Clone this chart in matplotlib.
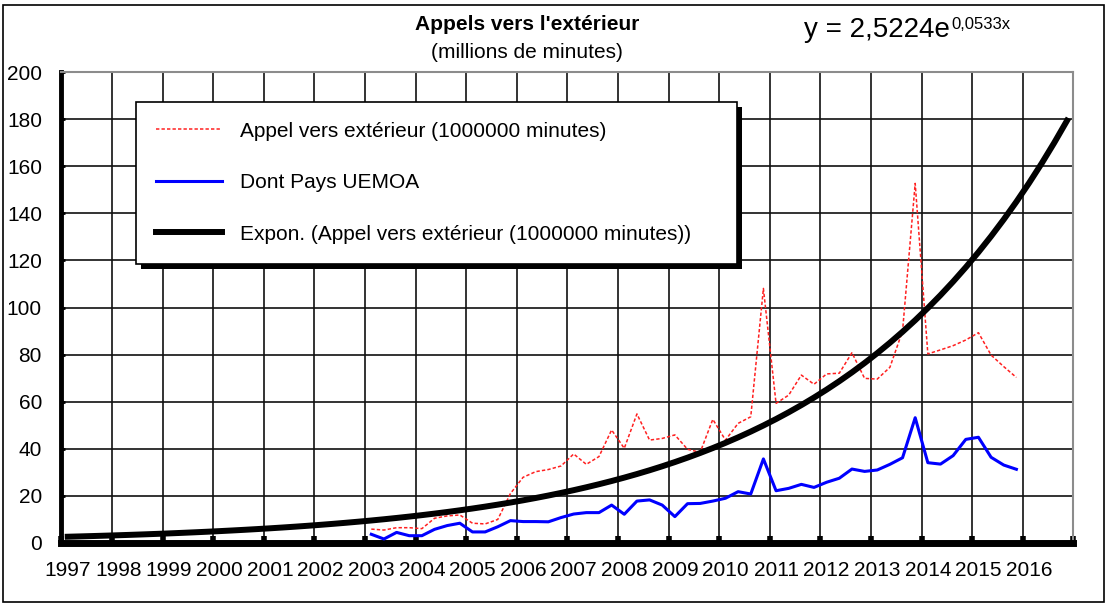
import numpy as np
import matplotlib.pyplot as plt
from matplotlib.patches import Rectangle
from matplotlib.transforms import IdentityTransform

plt.rcParams['font.family'] = ['Liberation Sans', 'DejaVu Sans']

# quarterly series, 1997 T1 .. 2016 T4 on the category axis
years = list(range(1997, 2017))
n_quarters = 80
first_quarter = 25  # 2003 T1

# Appel vers extérieur (millions de minutes), 2003 T1 .. 2015 T4
appels = [5.9, 5.5, 6.5, 6.5, 6.1, 10.5, 11.5, 11.9, 8.4, 8.1, 10.0,
          21.0, 27.9, 30.3, 31.2, 32.7, 37.8, 33.4, 36.7, 48.0, 40.2, 54.8,
          43.7, 44.4, 45.9, 39.8, 38.5, 52.5, 43.7, 50.8, 53.6, 108.1, 59.3,
          62.8, 71.3, 67.4, 71.8, 72.1, 80.8, 69.9, 69.6, 74.6, 90.0, 152.7,
          80.3, 82.0, 83.8, 86.2, 89.3, 79.8, 74.9, 70.3]
# dont pays UEMOA
uemoa = [3.7, 1.7, 4.5, 3.1, 3.1, 5.8, 7.4, 8.4, 4.7, 4.7, 6.9,
         9.5, 9.1, 9.1, 9.0, 10.8, 12.3, 12.9, 12.9, 16.1, 12.2, 17.8,
         18.3, 16.1, 11.2, 16.7, 16.8, 17.8, 19.0, 21.8, 20.8, 35.7, 22.2,
         23.2, 24.9, 23.6, 25.8, 27.5, 31.4, 30.4, 31.0, 33.4, 36.2, 53.2,
         34.1, 33.5, 37.1, 44.0, 44.9, 36.4, 33.1, 31.3]

# exponential trend y = a * exp(b * x), x = quarter index
trend_a = 2.5224
trend_b = 0.0533

x_all = np.arange(1, n_quarters + 1)
x_data = np.arange(first_quarter, first_quarter + len(appels))
trend = trend_a * np.exp(trend_b * x_all)

W, H = 1110, 603
fig = plt.figure(figsize=(W / 100, H / 100), dpi=100)
ax = fig.add_axes([61.4 / W, 60 / H, 1011.9 / W, 471 / H])

red_line, = ax.plot(x_data, appels, color='#ff2020', lw=1.1, dashes=(2.2, 1.4),
                    label='Appel vers extérieur (1000000 minutes)', zorder=3)
blue_line, = ax.plot(x_data, uemoa, color='#0000ff', lw=2.2,
                     label='Dont Pays UEMOA', zorder=3)
trend_line, = ax.plot(x_all, trend, color='black', lw=4.3,
                      label='Expon. (Appel vers extérieur (1000000 minutes))', zorder=4)

ax.set_xlim(0.5, n_quarters + 0.5)
ax.set_ylim(0, 200)

# year labels sit on the first quarter, grid on the year boundaries
ax.set_xticks(np.arange(1, n_quarters + 1, 4))
ax.set_xticklabels([str(y) for y in years])
ax.set_xticks(np.arange(0.5, n_quarters + 1, 4), minor=True)
ax.set_yticks(np.arange(0, 201, 20))

ax.set_axisbelow(True)
ax.grid(True, which='major', axis='y', color='#111111', lw=1.2)
ax.grid(True, which='minor', axis='x', color='#111111', lw=1.2)

ax.tick_params(axis='x', which='major', length=0, pad=13, labelsize=15)
ax.tick_params(axis='x', which='minor', length=5, width=4, direction='in', color='black')
ax.tick_params(axis='y', which='major', length=3, width=2, direction='in', pad=14, labelsize=15)

ax.spines['left'].set_linewidth(3.5)
ax.spines['bottom'].set_linewidth(5)
ax.spines['bottom'].set_capstyle('projecting')
for side in ['top', 'right']:
    ax.spines[side].set_color('#8c8c8c')
    ax.spines[side].set_linewidth(1.5)

fig.text(527 / W, 1 - 25 / H, "Appels vers l'extérieur", ha='center', va='center',
         fontsize=15, fontweight='bold')
fig.text(527 / W, 1 - 52 / H, "(millions de minutes)", ha='center', va='center',
         fontsize=15)

eq = fig.text(804 / W, 1 - 30 / H, ('y = %.4fe' % trend_a).replace('.', ','),
              ha='left', va='center', fontsize=20)
ax.annotate(('%.4fx' % trend_b).replace('.', ','), xy=(1, 1), xycoords=eq,
            xytext=(1, 0), textcoords='offset points', ha='left', va='top',
            fontsize=12, annotation_clip=False)

leg = ax.legend(handles=[red_line, blue_line, trend_line], loc='upper left',
                bbox_to_anchor=(136 / W, 1 - 257 / H, 601 / W, 155 / H),
                bbox_transform=fig.transFigure, mode='expand', borderaxespad=0,
                fontsize=15, frameon=True, fancybox=False, edgecolor='black',
                framealpha=1, borderpad=0.95, labelspacing=1.56,
                handlelength=3.2, handletextpad=0.85)
leg.get_frame().set_linewidth(1.2)

# solid black drop shadow behind the legend box
fig.canvas.draw()
bb = leg.get_window_extent()
ax.add_patch(Rectangle((bb.x0 + 5, bb.y0 - 5), bb.width, bb.height,
                       transform=IdentityTransform(), facecolor='black',
                       edgecolor='none', zorder=leg.get_zorder() - 0.1, clip_on=False))

# outer chart border
fig.add_artist(Rectangle((3 / W, 1 / H), 1101 / W, 597 / H, transform=fig.transFigure,
                         fill=False, edgecolor='black', lw=1.2))

fig.savefig('out.png', dpi=100)
